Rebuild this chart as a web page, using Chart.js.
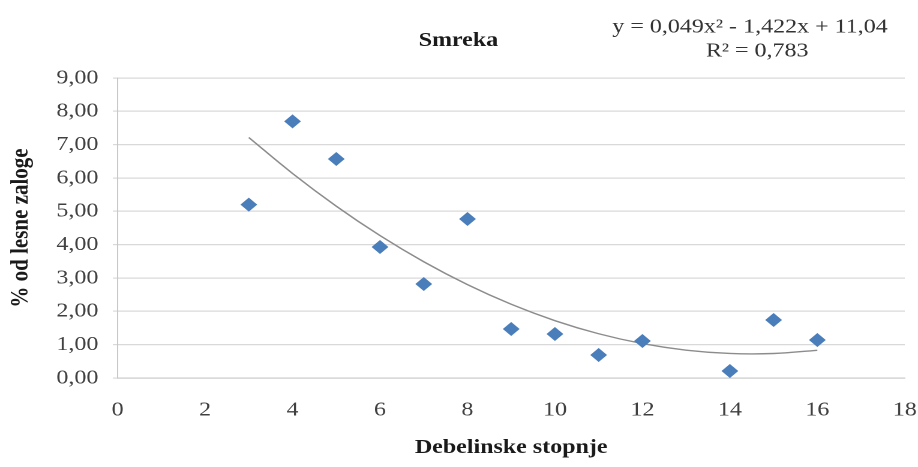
<!DOCTYPE html>
<html>
<head>
<meta charset="utf-8">
<script src="https://cdn.jsdelivr.net/npm/chart.js@4/dist/chart.umd.min.js"></script>
<style>
  html, body { margin: 0; padding: 0; background: #fff; }
</style>
</head>
<body>
<!-- graf je narisan v širini 765 in razpotegnjen na 918 px -->
<canvas id="myChart" width="765" height="467" style="width:918px;height:467px"></canvas>
<script>
// debelinske stopnje in delež lesne zaloge (%)
const stopnje = [3, 4, 5, 6, 7, 8, 9, 10, 11, 12, 14, 15, 16];
const delez = [5.20, 7.70, 6.57, 3.93, 2.82, 4.77, 1.47, 1.32, 0.69, 1.11, 0.21, 1.74, 1.14];

// polinomski trend: y = 0.049x² - 1.422x + 11.04
const trendKoef = [0.049, -1.422, 11.04];
const trendX = [3, 4, 5, 6, 7, 8, 9, 10, 11, 12, 13, 14, 15, 16];

const naslov = 'Smreka';
const enacba = ['y = 0,049x² - 1,422x + 11,04', 'R² = 0,783'];
const xNaslov = 'Debelinske stopnje';
const yNaslov = '% od lesne zaloge';

const serif = '"Liberation Serif", "Times New Roman", serif';

const tocke = stopnje.map((x, i) => ({x: x, y: delez[i]}));
const trend = trendX.map(x => ({x: x, y: trendKoef[0] * x * x + trendKoef[1] * x + trendKoef[2]}));

// naslov in enačba nad grafom
const napisi = {
    id: 'napisi',
    afterDraw(chart) {
        const ctx = chart.ctx;
        ctx.save();
        ctx.textAlign = 'center';
        ctx.textBaseline = 'middle';
        ctx.fillStyle = '#1a1a1a';
        ctx.font = 'bold 20px ' + serif;
        ctx.fillText(naslov, 382, 41);
        ctx.fillStyle = '#333';
        ctx.font = '20px ' + serif;
        ctx.fillText(enacba[0], 625, 27);
        ctx.fillText(enacba[1], 631, 51);
        ctx.restore();
    }
};

new Chart(document.getElementById('myChart'), {
    type: 'scatter',
    data: {
        datasets: [{
            label: 'Smreka',
            data: tocke,
            pointStyle: 'rectRot',
            pointRadius: 7,
            pointHoverRadius: 7,
            backgroundColor: '#4a7ebb',
            borderColor: '#4a7ebb',
            borderWidth: 0,
            order: 1
        }, {
            label: 'Trend',
            data: trend,
            showLine: true,
            fill: false,
            tension: 0.4,
            borderColor: '#8c8c8c',
            borderWidth: 1.4,
            pointRadius: 0,
            order: 2
        }]
    },
    options: {
        responsive: false,
        animation: false,
        devicePixelRatio: 2,
        layout: { padding: { top: 78, right: 0, bottom: 0, left: 0 } },
        plugins: {
            legend: { display: false },
            title: { display: false },
            tooltip: { enabled: false }
        },
        scales: {
            x: {
                type: 'linear',
                min: 0,
                max: 18,
                ticks: {
                    stepSize: 2,
                    padding: 20,
                    color: '#404040',
                    font: { family: serif, size: 20 }
                },
                grid: { display: false, drawTicks: false },
                border: { display: true, color: '#c8c8c8', width: 1 },
                title: {
                    display: true,
                    text: xNaslov,
                    color: '#1a1a1a',
                    font: { family: serif, size: 20, weight: 'bold' },
                    padding: { top: 10, bottom: 7 }
                },
                afterFit(scale) {
                    scale.height = 89;
                    scale.paddingLeft = 0;
                    scale.paddingRight = 11;
                }
            },
            y: {
                min: 0,
                max: 9,
                ticks: {
                    stepSize: 1,
                    padding: 12,
                    color: '#404040',
                    font: { family: serif, size: 20 },
                    callback: v => v.toFixed(2).replace('.', ',')
                },
                grid: { color: '#d9d9d9', lineWidth: 1.2, tickLength: 4 },
                border: { display: true, color: '#c8c8c8', width: 1 },
                title: {
                    display: true,
                    text: yNaslov,
                    color: '#1a1a1a',
                    font: { family: serif, size: 21, weight: 'bold' },
                    padding: { top: 5, bottom: 4 }
                },
                afterFit(scale) { scale.width = 98; }
            }
        }
    },
    plugins: [napisi]
});
</script>
</body>
</html>
